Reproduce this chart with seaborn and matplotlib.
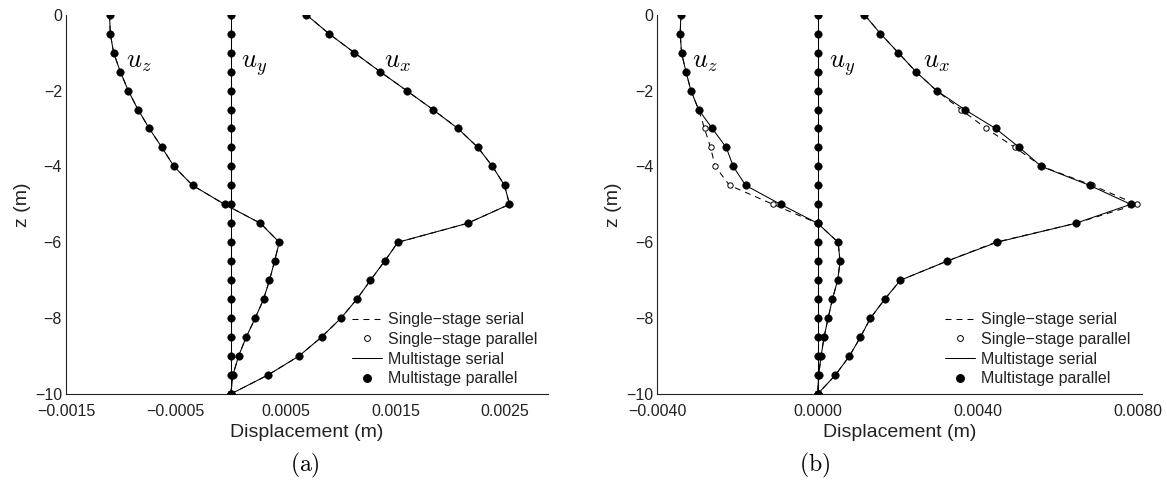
import matplotlib
matplotlib.use("Agg")
import matplotlib.pyplot as plt
from matplotlib.lines import Line2D
from matplotlib.ticker import FixedLocator, FuncFormatter
import seaborn as sns

# Depth below the surface (m)
depth = [0.0, -0.5, -1.0, -1.5, -2.0, -2.5, -3.0, -3.5, -4.0, -4.5, -5.0,
         -5.5, -6.0, -6.5, -7.0, -7.5, -8.0, -8.5, -9.0, -9.5, -10.0]

# Case (a): displacement profiles (m)
a_ux_multi = [0.000688, 0.000894, 0.001125, 0.001359, 0.001601, 0.001841, 0.002069,
              0.002251, 0.002384, 0.002494, 0.002539, 0.002157, 0.001523, 0.001401,
              0.001273, 0.001149, 0.001004, 0.000827, 0.000621, 0.000339, 0.0]
a_uy_multi = [0.0] * 21
a_uz_multi = [-0.001104, -0.001097, -0.001067, -0.001006, -0.000934, -0.000845, -0.000742,
              -0.000627, -0.000517, -0.000348, -0.000056, 0.000271, 0.000442, 0.000399,
              0.000353, 0.000299, 0.000223, 0.000141, 0.000071, 0.000020, 0.0]
# single-stage runs give the same profiles in case (a)
a_ux_single = list(a_ux_multi)
a_uy_single = list(a_uy_multi)
a_uz_single = list(a_uz_multi)

# Case (b): displacement profiles (m)
b_ux_multi = [0.001168, 0.001568, 0.002010, 0.002450, 0.002968, 0.003668, 0.004443,
              0.005035, 0.005585, 0.006793, 0.007818, 0.006443, 0.004475, 0.003223,
              0.002068, 0.001675, 0.001318, 0.001068, 0.000793, 0.000443, 0.0]
b_ux_single = [0.001168, 0.001568, 0.002010, 0.002450, 0.002968, 0.003575, 0.004210,
               0.004925, 0.005600, 0.006860, 0.007968, 0.006443, 0.004443, 0.003223,
               0.002068, 0.001675, 0.001318, 0.001068, 0.000793, 0.000443, 0.0]
b_uy_multi = [0.0] * 21
b_uy_single = [0.0] * 21
b_uz_multi = [-0.003415, -0.003433, -0.003400, -0.003290, -0.003165, -0.002975, -0.002633,
              -0.002283, -0.002108, -0.001800, -0.000925, 0.0, 0.000510, 0.000560,
              0.000500, 0.000368, 0.000260, 0.000160, 0.000085, 0.000025, 0.0]
b_uz_single = [-0.003415, -0.003433, -0.003400, -0.003290, -0.003165, -0.002975, -0.002825,
               -0.002675, -0.002558, -0.002200, -0.001115, 0.0, 0.000510, 0.000560,
               0.000500, 0.000368, 0.000260, 0.000160, 0.000085, 0.000025, 0.0]

# Axis ticks
z_ticks = [0, -2, -4, -6, -8, -10]
a_x_ticks = [-0.0015, -0.0005, 0.0005, 0.0015, 0.0025]
b_x_ticks = [-0.0040, 0.0, 0.0040, 0.0080]

legend_labels = ["Single\u2212stage serial", "Single\u2212stage parallel",
                 "Multistage serial", "Multistage parallel"]
panel_labels = ["(a)", "(b)"]

sns.set_style("white")
plt.rcParams["font.family"] = ["Liberation Sans", "DejaVu Sans"]
plt.rcParams["mathtext.fontset"] = "cm"
plt.rcParams["lines.scale_dashes"] = False

INK = "#222222"
DASH = (0, (4.3, 3.6))
LW = 0.75

fig = plt.figure(figsize=(11.67, 4.86), dpi=100)
ax_a = fig.add_axes([0.0566, 0.1893, 0.4130, 0.7805])
ax_b = fig.add_axes([0.5634, 0.1893, 0.4152, 0.7805])


def fmt_disp(v, pos=None):
    s = f"{v:.4f}"
    return s.replace("-", "\u2212")


def draw_profiles(ax, single, multi):
    for xs in single:
        sns.lineplot(x=xs, y=depth, orient="y", sort=False, estimator=None,
                     color="k", lw=LW, linestyle=DASH, ax=ax, zorder=2)
        sns.scatterplot(x=xs, y=depth, marker="o", s=15, facecolor="white",
                        edgecolor="k", linewidth=0.7, ax=ax, zorder=3)
    for xs in multi:
        sns.lineplot(x=xs, y=depth, orient="y", sort=False, estimator=None,
                     color="k", lw=LW, ax=ax, zorder=4)
        sns.scatterplot(x=xs, y=depth, marker="o", s=30, color="k",
                        edgecolor="k", linewidth=0.3, ax=ax, zorder=5)


def style_axes(ax, xlim, xticks):
    ax.set_xlim(*xlim)
    ax.set_ylim(-10, 0)
    ax.xaxis.set_major_locator(FixedLocator(xticks))
    ax.xaxis.set_major_formatter(FuncFormatter(fmt_disp))
    ax.yaxis.set_major_locator(FixedLocator(z_ticks))
    ax.yaxis.set_major_formatter(FuncFormatter(lambda v, p: f"{v:g}".replace("-", "\u2212")))
    for side in ("top", "right"):
        ax.spines[side].set_visible(False)
    for side in ("left", "bottom"):
        ax.spines[side].set_color(INK)
        ax.spines[side].set_linewidth(0.8)
    ax.tick_params(axis="both", direction="in", length=3.3, width=0.7,
                   colors=INK, labelsize=11.5)
    ax.tick_params(axis="x", pad=7.5)
    ax.tick_params(axis="y", pad=3)
    ax.set_xlabel("Displacement (m)", fontsize=14, color=INK, labelpad=3)
    ax.set_ylabel("z (m)", fontsize=14, color=INK, labelpad=3)
    ax.set_facecolor("white")


draw_profiles(ax_a, [a_ux_single, a_uy_single, a_uz_single],
              [a_ux_multi, a_uy_multi, a_uz_multi])
draw_profiles(ax_b, [b_ux_single, b_uy_single, b_uz_single],
              [b_ux_multi, b_uy_multi, b_uz_multi])

style_axes(ax_a, (-0.0015, 0.00289), a_x_ticks)
style_axes(ax_b, (-0.0040, 0.0081), b_x_ticks)

# component labels
comp_size = 19
ax_a.text(-0.000955, -1.38, r"$u_z$", fontsize=comp_size, color="k", va="baseline")
ax_a.text(0.000095, -1.38, r"$u_y$", fontsize=comp_size, color="k", va="baseline")
ax_a.text(0.001400, -1.38, r"$u_x$", fontsize=comp_size, color="k", va="baseline")
ax_b.text(-0.00315, -1.38, r"$u_z$", fontsize=comp_size, color="k", va="baseline")
ax_b.text(0.00029, -1.38, r"$u_y$", fontsize=comp_size, color="k", va="baseline")
ax_b.text(0.00263, -1.38, r"$u_x$", fontsize=comp_size, color="k", va="baseline")

handles = [
    Line2D([], [], color="k", lw=LW, linestyle=DASH),
    Line2D([], [], color="k", lw=0, marker="o", markersize=4.2,
           markerfacecolor="white", markeredgewidth=0.7),
    Line2D([], [], color="k", lw=LW),
    Line2D([], [], color="k", lw=0, marker="o", markersize=5.4),
]
for ax, x0 in ((ax_a, 351.7 / 1167), (ax_b, 945.0 / 1167)):
    ax.legend(handles, legend_labels, loc="center left",
              bbox_to_anchor=(x0, 1 - 349.2 / 486), bbox_transform=fig.transFigure,
              frameon=False, fontsize=11.5, handlelength=1.9, handletextpad=0.35,
              labelspacing=0.29, borderpad=0, borderaxespad=0, labelcolor=INK)

for label, xc in zip(panel_labels, (305 / 1167, 815 / 1167)):
    fig.text(xc, 1 - 465 / 486, r"$\mathrm{" + label + "}$", fontsize=17,
             ha="center", va="center", color="k")

fig.savefig("out.png", dpi=100, facecolor="white")
